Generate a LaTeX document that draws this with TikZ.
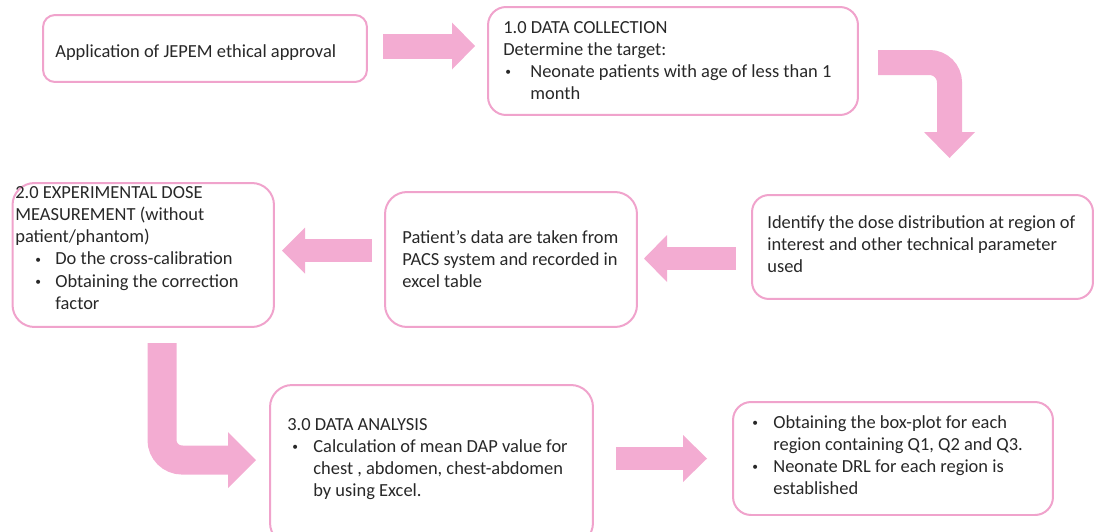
\documentclass[tikz,border=0pt]{standalone}
\usepackage{fontspec}
\setmainfont{Carlito}
\usetikzlibrary{arrows.meta}
\definecolor{flowpink}{RGB}{243,172,210}
\definecolor{edgepink}{RGB}{240,163,204}
\definecolor{inktext}{RGB}{40,40,40}
\newlength{\px}
\setlength{\px}{0.02cm}
% bullet at #1, item text at #2 (both in px from the text's left edge)
\newcommand{\bul}[2]{\makebox[#2\px][l]{\hspace*{#1\px}\raisebox{0.22ex}{\scalebox{0.62}{•}}}}
\newcommand{\ind}[1]{\hspace*{#1\px}}
\newcommand{\topstrut}{\rule{0pt}{8pt}}

\begin{document}
\begin{tikzpicture}[x=0.02cm, y=-0.02cm,
        stepbox/.style={draw=edgepink, line width=0.04cm, fill=white, rounded corners=#1, inner sep=0pt},
        steptext/.style={anchor=north west, inner sep=0pt, align=left, text=inktext,
            font=\fontsize{10.5}{12.65}\selectfont},
        flow/.style={draw=flowpink, line width=#1},
        tip/.style 2 args={-{Triangle[width=#1, length=#2, line width=0pt]}}
    ]
    \useasboundingbox (0,0) rectangle (1094,531);
    \clip (0,0) rectangle (1094,531);

    % boxes
    \node[stepbox=0.24cm, minimum width=6.48cm, minimum height=1.34cm] (ethics) at (205,48.5) {};
    \node[stepbox=0.36cm, minimum width=7.4cm, minimum height=2.16cm] (collect) at (673,61) {};
    \node[stepbox=0.34cm, minimum width=6.82cm, minimum height=2.08cm] (identify) at (922.5,247) {};
    \node[stepbox=0.44cm, minimum width=5.04cm, minimum height=2.7cm] (pacs) at (511,259.5) {};
    \node[stepbox=0.44cm, minimum width=5.23cm, minimum height=2.88cm] (measure) at (143.25,255) {};
    \node[stepbox=0.44cm, minimum width=6.46cm, minimum height=3.2cm] (analysis) at (431.5,465) {};
    \node[stepbox=0.36cm, minimum width=6.4cm, minimum height=2.26cm] (drl) at (893,458.5) {};

    % texts
    \node[steptext] (ethicsText) at (55,42.9) {\topstrut Application of JEPEM ethical approval};
    \node[steptext] (collectText) at (503,18.9) {\topstrut 1.0 DATA COLLECTION\\
        Determine the target:\\
        \bul{2}{27}Neonate patients with age of less than 1\\
        \ind{27}month};
    \node[steptext] (identifyText) at (767,213.9) {\topstrut Identify the dose distribution at region of\\
        interest and other technical parameter\\
        used};
    \node[steptext] (pacsText) at (402,228.9) {\topstrut Patient’s data are taken from\\
        PACS system and recorded in\\
        excel table};
    \node[steptext] (measureText) at (15,183.9) {\topstrut 2.0 EXPERIMENTAL DOSE\\
        MEASUREMENT (without\\
        patient/phantom)\\
        \bul{20}{40}Do the cross-calibration\\
        \bul{20}{40}Obtaining the correction\\
        \ind{40}factor};
    \node[steptext] (analysisText) at (287,415.9) {\topstrut 3.0 DATA ANALYSIS\\
        \bul{5}{26}Calculation of mean DAP value for\\
        \ind{26}chest , abdomen, chest-abdomen\\
        \ind{26}by using Excel.};
    \node[steptext] (drlText) at (752,413.9) {\topstrut \bul{0}{21}Obtaining the box-plot for each\\
        \ind{21}region containing Q1, Q2 and Q3.\\
        \bul{0}{21}Neonate DRL for each region is\\
        \ind{21}established};

    % arrow ends
    \coordinate (ethicsOut) at (383,46);
    \coordinate (collectIn) at (475,46);
    \coordinate (collectOut) at (878,62.5);
    \coordinate (identifyIn) at (949.5,158);
    \coordinate (identifyOut) at (736,258.5);
    \coordinate (pacsIn) at (644,258.5);
    \coordinate (pacsOut) at (372,250.5);
    \coordinate (measureIn) at (282,250.5);
    \coordinate (measureOut) at (162,343);
    \coordinate (analysisIn) at (256,460);
    \coordinate (analysisOut) at (616,458.5);
    \coordinate (drlIn) at (707,458.5);

    % block arrows
    \draw[flow=0.5cm, tip={0.94cm}{0.46cm}] (ethicsOut) -- (collectIn);
    \draw[flow=0.5cm, tip={1.02cm}{0.52cm}, rounded corners=0.4cm] (collectOut) -| (identifyIn);
    \draw[flow=0.46cm, tip={0.94cm}{0.46cm}] (identifyOut) -- (pacsIn);
    \draw[flow=0.46cm, tip={0.92cm}{0.46cm}] (pacsOut) -- (measureIn);
    \draw[flow=0.58cm, tip={1.12cm}{0.56cm}, rounded corners=0.4cm] (measureOut) |- (analysisIn);
    \draw[flow=0.46cm, tip={0.94cm}{0.48cm}] (analysisOut) -- (drlIn);
\end{tikzpicture}
\end{document}
